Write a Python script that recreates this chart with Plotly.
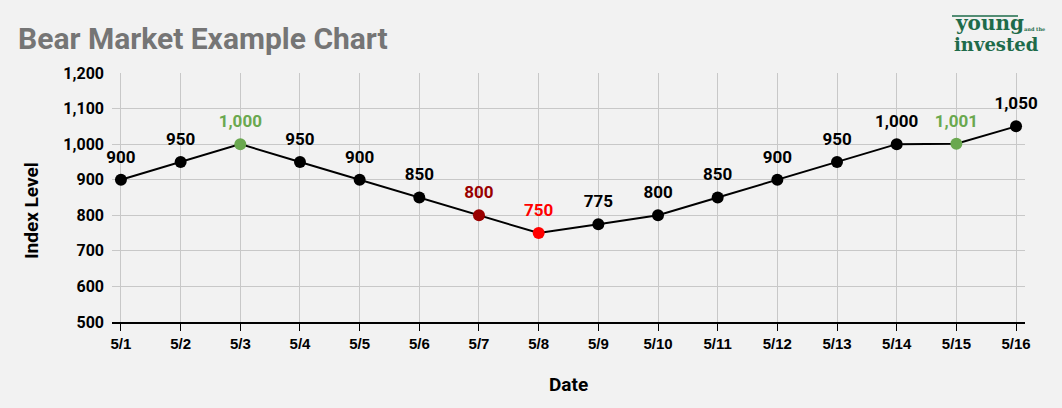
import plotly.graph_objects as go

dates = ["5/1", "5/2", "5/3", "5/4", "5/5", "5/6", "5/7", "5/8",
         "5/9", "5/10", "5/11", "5/12", "5/13", "5/14", "5/15", "5/16"]
levels = [900, 950, 1000, 950, 900, 850, 800, 750,
          775, 800, 850, 900, 950, 1000, 1001, 1050]

GREEN = "#6aa84f"
DARK_RED = "#990000"
RED = "#ff0000"
LOGO = "#1e6b4a"
highlight = {2: GREEN, 6: DARK_RED, 7: RED, 14: GREEN}
point_colors = [highlight.get(i, "#000000") for i in range(len(levels))]

x_idx = list(range(len(dates)))

fig = go.Figure()
fig.add_trace(
    go.Scatter(
        x=x_idx,
        y=levels,
        mode="lines+markers",
        line={"color": "#000000", "width": 2},
        marker={"color": point_colors, "size": 12},
        showlegend=False,
    )
)
# value labels (invisible bigger marker pushes the text a bit higher)
fig.add_trace(
    go.Scatter(
        x=x_idx,
        y=levels,
        mode="markers+text",
        marker={"size": 19, "opacity": 0},
        text=[f"{v:,}" for v in levels],
        textposition="top center",
        textfont={"family": "Roboto", "size": 17, "color": point_colors, "weight": "bold"},
        cliponaxis=False,
        showlegend=False,
        hoverinfo="skip",
    )
)

fig.update_layout(
    width=1062,
    height=408,
    paper_bgcolor="#f2f2f2",
    plot_bgcolor="#f2f2f2",
    margin={"l": 112, "r": 37, "t": 73, "b": 86},
    font={"family": "Roboto", "color": "#000000"},
    title={
        "text": "Bear Market Example Chart",
        "x": 0.017,
        "xanchor": "left",
        "y": 1 - 38 / 408,
        "yanchor": "middle",
        "font": {"family": "Roboto", "size": 30, "color": "#757575", "weight": "bold"},
    },
    xaxis={
        "range": [-0.15, 15.15],
        "tickmode": "array",
        "tickvals": x_idx,
        "ticktext": dates,
        "showgrid": True,
        "gridcolor": "#c8c8c8",
        "showline": True,
        "linecolor": "#000000",
        "linewidth": 1.5,
        "ticks": "outside",
        "ticklen": 7,
        "tickcolor": "#000000",
        "tickfont": {"family": "Liberation Sans", "size": 15, "weight": "bold"},
        "zeroline": False,
    },
    yaxis={
        "range": [500, 1200],
        "dtick": 100,
        "tickformat": ",",
        "showgrid": True,
        "gridcolor": "#c8c8c8",
        "ticks": "",
        "ticklabelstandoff": 7,
        "tickfont": {"family": "Roboto", "size": 16, "weight": "bold"},
        "zeroline": False,
    },
)

# axis titles
fig.add_annotation(
    text="<b>Index Level</b>", xref="paper", yref="paper",
    x=-(112 - 31) / 913, y=(322 - 211) / 249, textangle=-90,
    xanchor="center", yanchor="middle", showarrow=False,
    font={"family": "Roboto", "size": 19, "color": "#000000"},
)
fig.add_annotation(
    text="<b>Date</b>", xref="paper", yref="paper",
    x=0.5, y=-(384 - 322) / 249,
    xanchor="center", yanchor="middle", showarrow=False,
    font={"family": "Roboto", "size": 19, "color": "#000000"},
)

# logo
fig.add_annotation(
    text="<b>young</b>", xref="paper", yref="paper",
    x=(989 - 112) / 913, y=(322 - 23) / 249,
    xanchor="center", yanchor="middle", showarrow=False,
    font={"family": "DejaVu Serif", "size": 20, "color": LOGO},
)
fig.add_annotation(
    text="<b>and the</b>", xref="paper", yref="paper",
    x=(1034 - 112) / 913, y=(322 - 29) / 249,
    xanchor="center", yanchor="middle", showarrow=False,
    font={"family": "DejaVu Serif", "size": 5, "color": LOGO},
)
fig.add_annotation(
    text="<b>invested</b>", xref="paper", yref="paper",
    x=(996 - 112) / 913, y=(322 - 45) / 249,
    xanchor="center", yanchor="middle", showarrow=False,
    font={"family": "DejaVu Serif", "size": 18, "color": LOGO},
)
fig.add_shape(
    type="line", xref="paper", yref="paper",
    x0=(952 - 112) / 913, x1=(1018 - 112) / 913,
    y0=(322 - 16) / 249, y1=(322 - 16) / 249,
    line={"color": LOGO, "width": 1.5},
)

fig.write_html(
    "out.html",
    config={"displayModeBar": False},
    post_script="document.body.style.margin='0';document.body.style.background='#f2f2f2';",
)
